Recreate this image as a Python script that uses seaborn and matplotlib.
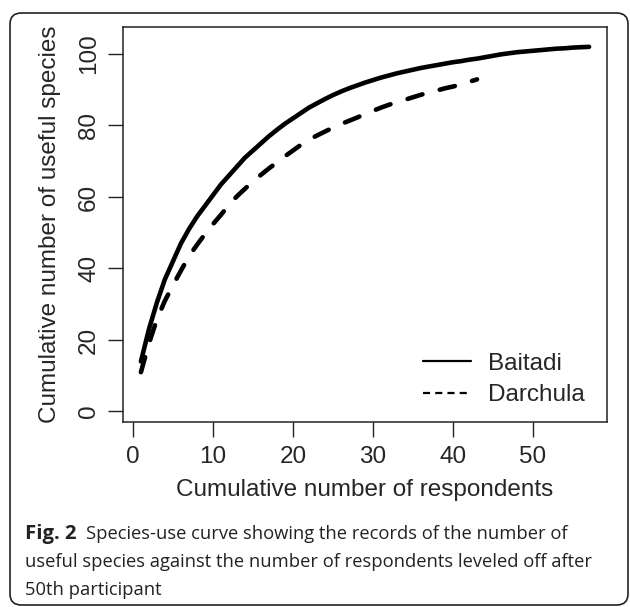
import matplotlib
matplotlib.use("Agg")
import matplotlib.pyplot as plt
import matplotlib.patches as mpatches
from matplotlib.lines import Line2D
import pandas as pd
import seaborn as sns

# cumulative number of useful species per respondent
baitadi_resp = list(range(1, 58))
baitadi_species = [
    14, 23, 30.5, 37, 42, 47, 51, 54.5, 57.5, 60.5,
    63.5, 66, 68.5, 71, 73, 75, 77, 78.8, 80.5, 82,
    83.5, 85, 86.2, 87.4, 88.5, 89.5, 90.4, 91.2, 92, 92.7,
    93.4, 94, 94.6, 95.1, 95.6, 96.1, 96.5, 96.9, 97.3, 97.7,
    98, 98.4, 98.7, 99.1, 99.5, 99.9, 100.2, 100.5, 100.7, 100.9,
    101.1, 101.3, 101.5, 101.6, 101.8, 101.9, 102,
]
darchula_resp = list(range(1, 44))
darchula_species = [
    11, 19, 25.8, 31, 35.3, 39.4, 43.4, 46.6, 49.6, 52.4,
    55, 57.8, 60.2, 62.3, 64.4, 66.2, 68, 69.7, 71.4, 73,
    74.6, 76, 77.2, 78.3, 79.4, 80.4, 81.3, 82.2, 83.2, 84.1,
    85, 85.8, 86.5, 87.2, 87.9, 88.6, 89.2, 89.8, 90.4, 90.9,
    91.5, 92.2, 92.9,
]
series_names = ["Baitadi", "Darchula"]
x_ticks = [0, 10, 20, 30, 40, 50]
y_ticks = [0, 20, 40, 60, 80, 100]

caption_bold = "Fig. 2"
caption_lines = [
    "Species-use curve showing the records of the number of",
    "useful species against the number of respondents leveled off after",
    "50th participant",
]

sns.set_style("white")
plt.rcParams["font.family"] = ["Liberation Sans", "DejaVu Sans"]
cap_family = ["Open Sans", "DejaVu Sans"]

W, H = 630, 607
fig = plt.figure(figsize=(W / 100, H / 100), dpi=100)
ax = fig.add_axes([123 / W, 1 - 422 / H, (607 - 123) / W, (422 - 27) / H])

df_b = pd.DataFrame({"resp": baitadi_resp, "species": baitadi_species})
df_d = pd.DataFrame({"resp": darchula_resp, "species": darchula_species})

sns.lineplot(data=df_b, x="resp", y="species", ax=ax, color="black",
             linewidth=3.3, solid_capstyle="round")
sns.lineplot(data=df_d, x="resp", y="species", ax=ax, color="black",
             linewidth=3.3, dash_capstyle="round")
ax.lines[1].set_dashes((3.4, 3.9))

ax.set_xlim(-1.24, 59.24)
ax.set_ylim(-2.94, 107.55)
ax.set_xticks(x_ticks)
ax.set_yticks(y_ticks)
ax.set_yticklabels([str(v) for v in y_ticks], rotation=90, va="center")
ax.tick_params(axis="both", direction="out", length=10.5, width=1.0,
               color="#222222", pad=7, labelsize=17.5, left=True, bottom=True)
ax.tick_params(axis="y", pad=6)
ax.set_xlabel("Cumulative number of respondents", fontsize=17.5, labelpad=8)
ax.set_ylabel("Cumulative number of useful species", fontsize=17.5, labelpad=12)
for sp in ax.spines.values():
    sp.set_visible(True)
    sp.set_color("#222222")
    sp.set_linewidth(1.1)

handles = [
    Line2D([], [], color="black", linewidth=1.6),
    Line2D([], [], color="black", linewidth=1.6, dashes=(3.2, 2.3)),
]
ax.legend(handles, series_names, loc="lower right", frameon=False,
          fontsize=17.5, handlelength=2.0, handletextpad=0.7,
          labelspacing=0.38, bbox_to_anchor=(1.0, -0.015))

# rounded outer frame
frame = mpatches.FancyBboxPatch(
    (10 / W, 2 / H), (628 - 10) / W, (594 - 2) / H,
    boxstyle="round,pad=0,rounding_size=0.018",
    transform=fig.transFigure, fill=False, edgecolor="#222222",
    linewidth=1.2, clip_on=False,
)
fig.patches.append(frame)

# caption
cap_size = 13.2
fig.text(25 / W, 1 - 539 / H, caption_bold, fontsize=14.6,
         fontweight="bold", family=cap_family, color="#222222", va="baseline")
fig.text(86 / W, 1 - 539 / H, caption_lines[0], fontsize=cap_size,
         family=cap_family, color="#222222", va="baseline")
fig.text(25 / W, 1 - 567 / H, caption_lines[1], fontsize=cap_size,
         family=cap_family, color="#222222", va="baseline")
fig.text(25 / W, 1 - 595 / H, caption_lines[2], fontsize=cap_size,
         family=cap_family, color="#222222", va="baseline")

fig.savefig("out.png", dpi=100)
